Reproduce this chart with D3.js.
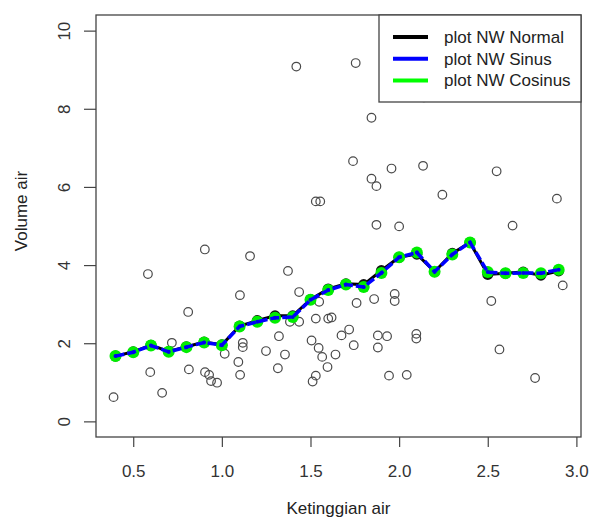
<!DOCTYPE html>
<html>
<head>
<meta charset="utf-8">
<script src="https://cdn.jsdelivr.net/npm/d3@7"></script>
<style>
  body { margin: 0; background: #fff; }
  svg { display: block; font-family: "Liberation Sans", Arial, sans-serif; }
</style>
</head>
<body>
<div id="chart"></div>
<script>
// observed data (Ketinggian air, Volume air)
const obsX = [1.42, 1.755, 2.14, 1.844, 1.74, 1.957, 2.135, 2.55, 1.844, 1.872, 2.244, 2.89,
  1.872, 2.0, 2.64, 1.53, 1.555,
  0.904, 1.159, 0.583, 1.373, 1.436, 1.102, 1.549, 0.81, 1.384, 1.436, 1.53, 1.6, 1.619,
  1.322, 0.718, 1.118, 1.118, 1.506, 1.675, 1.718, 1.016, 1.249, 1.356, 1.546, 1.566,
  1.641, 1.093, 1.596, 1.316, 0.596, 0.814, 0.905, 0.928, 0.939, 0.973, 1.103, 1.53,
  1.512, 0.663, 0.389,
  1.975, 1.975, 1.859, 1.76, 2.52, 2.923, 1.744, 1.88, 1.932, 1.88, 2.097, 2.097,
  2.566, 1.943, 2.043, 2.767];
const obsY = [9.08, 9.17, 8.29, 7.77, 6.66, 6.47, 6.54, 6.40, 6.21, 6.02, 5.80, 5.70,
  5.03, 4.99, 5.01, 5.63, 5.63,
  4.40, 4.23, 3.77, 3.85, 3.31, 3.23, 3.06, 2.80, 2.55, 2.55, 2.63, 2.63, 2.66,
  2.18, 2.01, 2.01, 1.90, 2.07, 2.20, 2.35, 1.73, 1.80, 1.71, 1.88, 1.65,
  1.71, 1.52, 1.39, 1.36, 1.26, 1.33, 1.26, 1.19, 1.03, 0.99, 1.19, 1.17,
  1.02, 0.73, 0.62,
  3.26, 3.08, 3.13, 3.03, 3.08, 3.48, 1.95, 2.20, 2.18, 1.89, 2.24, 2.12,
  1.84, 1.17, 1.19, 1.11];

// Nadaraya-Watson estimates on the grid
const gridX = [0.4, 0.5, 0.6, 0.7, 0.8, 0.9, 1.0, 1.1, 1.2, 1.3, 1.4, 1.5, 1.6,
  1.7, 1.8, 1.9, 2.0, 2.1, 2.2, 2.3, 2.4, 2.5, 2.6, 2.7, 2.8, 2.9];
const nwNormal = [1.67, 1.78, 1.95, 1.79, 1.91, 2.03, 1.96, 2.44, 2.58, 2.70, 2.70, 3.12, 3.39,
  3.52, 3.50, 3.86, 4.20, 4.28, 3.83, 4.30, 4.58, 3.76, 3.79, 3.82, 3.74, 3.85];
const nwSinus = [1.67, 1.77, 1.94, 1.78, 1.90, 2.02, 1.95, 2.43, 2.55, 2.65, 2.67, 3.11, 3.36,
  3.50, 3.44, 3.80, 4.20, 4.32, 3.83, 4.27, 4.58, 3.82, 3.79, 3.80, 3.79, 3.88];
const nwCosinus = [1.67, 1.77, 1.94, 1.78, 1.90, 2.02, 1.95, 2.43, 2.55, 2.65, 2.67, 3.11, 3.36,
  3.50, 3.44, 3.80, 4.20, 4.32, 3.83, 4.27, 4.58, 3.82, 3.79, 3.80, 3.79, 3.88];

const xTicks = [0.5, 1.0, 1.5, 2.0, 2.5, 3.0];
const yTicks = [0, 2, 4, 6, 8, 10];
const legendNames = ['plot NW Normal', 'plot NW Sinus', 'plot NW Cosinus'];
const legendColors = ['#000000', '#0000ff', '#00ff00'];

const width = 598
    , height = 519
    , padL = 96
    , padR = 581
    , padT = 15
    , padB = 437
    ;

const svg = d3.select('#chart')
  .append('svg')
  .attr('width', width)
  .attr('height', height);

const x = d3.scaleLinear().domain([0.29, 3.026]).range([padL, padR]);
const y = d3.scaleLinear().domain([-0.4, 10.4]).range([padB, padT]);

// axes
const xAxis = svg.append('g')
  .attr('transform', `translate(0,${padB})`)
  .call(d3.axisBottom(x).tickValues(xTicks).tickFormat(d3.format('.1f')).tickSize(10).tickSizeOuter(0).tickPadding(18));
const yAxis = svg.append('g')
  .attr('transform', `translate(${padL},0)`)
  .call(d3.axisLeft(y).tickValues(yTicks).tickSize(12).tickSizeOuter(0));

[xAxis, yAxis].forEach(g => {
  g.select('.domain').remove();
  g.selectAll('line').attr('stroke', '#444').attr('stroke-width', 1.2);
  g.selectAll('text').attr('fill', '#333').style('font-size', '17px');
});
yAxis.selectAll('.tick text')
  .attr('x', null).attr('dy', null)
  .attr('text-anchor', 'middle')
  .attr('transform', 'translate(-32,0) rotate(-90)')
  .attr('dy', '0.35em');

// box
svg.append('rect')
  .attr('x', padL).attr('y', padT)
  .attr('width', padR - padL).attr('height', padB - padT)
  .attr('fill', 'none').attr('stroke', '#444').attr('stroke-width', 1.3);

// axis titles
svg.append('text')
  .attr('x', (padL + padR) / 2).attr('y', 514)
  .attr('text-anchor', 'middle')
  .style('font-size', '17px').attr('fill', '#222')
  .text('Ketinggian air');
svg.append('text')
  .attr('transform', `translate(27,211) rotate(-90)`)
  .attr('text-anchor', 'middle')
  .style('font-size', '17px').attr('fill', '#222')
  .text('Volume air');

// scatter
svg.append('g')
  .selectAll('circle')
  .data(obsX.map((d, i) => [d, obsY[i]]))
  .join('circle')
    .attr('cx', d => x(d[0]))
    .attr('cy', d => y(d[1]))
    .attr('r', 4.3)
    .attr('fill', 'none')
    .attr('stroke', '#4a4a4a')
    .attr('stroke-width', 1.2);

const line = d3.line().x(d => x(d[0])).y(d => y(d[1]));
const pts = arr => gridX.map((d, i) => [d, arr[i]]);

// NW normal (black)
svg.append('path').datum(pts(nwNormal))
  .attr('d', line).attr('fill', 'none').attr('stroke', '#000').attr('stroke-width', 3);
svg.append('g').selectAll('circle').data(pts(nwNormal)).join('circle')
  .attr('cx', d => x(d[0])).attr('cy', d => y(d[1])).attr('r', 5.5).attr('fill', '#111');

// NW cosinus (green points)
svg.append('g').selectAll('circle').data(pts(nwCosinus)).join('circle')
  .attr('cx', d => x(d[0])).attr('cy', d => y(d[1])).attr('r', 6).attr('fill', '#00ee00');

// NW sinus (blue)
svg.append('path').datum(pts(nwSinus))
  .attr('d', line).attr('fill', 'none').attr('stroke', '#0000ff').attr('stroke-width', 3.5)
  .attr('stroke-dasharray', '9,3');
svg.append('g').selectAll('circle').data(pts(nwSinus)).join('circle')
  .attr('cx', d => x(d[0])).attr('cy', d => y(d[1])).attr('r', 2).attr('fill', '#0000ee');

// legend
const lg = svg.append('g');
lg.append('rect')
  .attr('x', 379).attr('y', padT)
  .attr('width', padR - 379).attr('height', 102 - padT)
  .attr('fill', '#fff').attr('stroke', '#444').attr('stroke-width', 1.3);
const rows = lg.selectAll('g.row')
  .data(legendNames)
  .join('g')
    .attr('class', 'row')
    .attr('transform', (d, i) => `translate(0,${37 + i * 21.7})`);
rows.append('line')
  .attr('x1', 393).attr('x2', 428)
  .attr('stroke', (d, i) => legendColors[i])
  .attr('stroke-width', 4);
rows.append('text')
  .attr('x', 444).attr('dy', '0.35em')
  .style('font-size', '17px').attr('fill', '#222')
  .text(d => d);
</script>
</body>
</html>
